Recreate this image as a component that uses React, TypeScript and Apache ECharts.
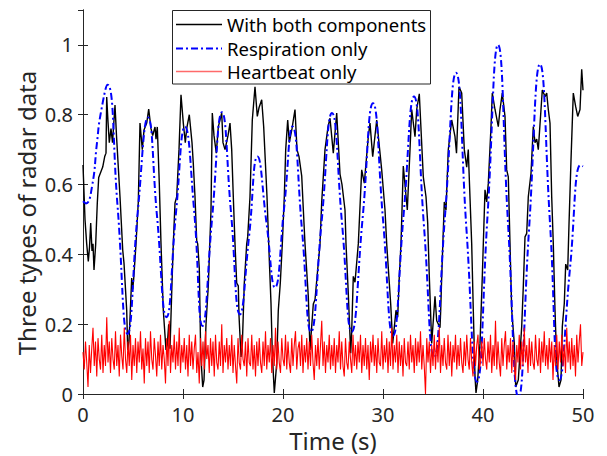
import React, { useEffect, useRef } from "react";
import * as echarts from "echarts";

// Black: respiration + heartbeat (time s, value)
const bothComponents: [number, number][] = [
  [0, 0.656], [0.2, 0.5], [0.37, 0.43], [0.53, 0.38], [0.65, 0.42], [0.77, 0.49], [0.9, 0.41], [1.0, 0.43],
  [1.1, 0.355], [1.27, 0.43], [1.43, 0.547], [1.57, 0.62], [1.77, 0.635], [1.97, 0.65], [2.17, 0.68], [2.3, 0.69],
  [2.37, 0.851], [2.5, 0.78], [2.63, 0.72], [2.8, 0.76], [2.95, 0.72], [3.2, 0.828], [3.35, 0.74], [3.53, 0.65],
  [3.7, 0.565], [3.97, 0.413], [4.1, 0.375], [4.37, 0.24], [4.47, 0.126], [4.6, 0.15], [4.87, 0.332], [4.97, 0.3],
  [5.07, 0.33], [5.3, 0.43], [5.53, 0.55], [5.7, 0.776], [5.93, 0.7], [6.1, 0.756], [6.37, 0.776], [6.57, 0.816],
  [6.8, 0.76], [6.97, 0.74], [7.2, 0.765], [7.3, 0.73], [7.43, 0.765], [7.63, 0.603], [7.8, 0.43], [8.03, 0.24],
  [8.3, 0.126], [8.43, 0.14], [8.57, 0.2], [8.7, 0.13], [8.9, 0.318], [9.03, 0.43], [9.2, 0.547], [9.37, 0.565],
  [9.6, 0.7], [9.8, 0.857], [10.03, 0.776], [10.23, 0.72], [10.37, 0.76], [10.63, 0.8], [10.9, 0.72], [11.03, 0.66],
  [11.2, 0.565], [11.37, 0.44], [11.47, 0.43], [11.63, 0.36], [11.77, 0.117], [11.97, 0.02], [12.1, 0.04], [12.3, 0.2],
  [12.53, 0.31], [12.8, 0.527], [12.93, 0.805], [13.1, 0.74], [13.33, 0.69], [13.53, 0.765], [13.87, 0.805], [14.0, 0.72],
  [14.2, 0.7], [14.5, 0.74], [14.7, 0.776], [14.87, 0.7], [15.03, 0.565], [15.2, 0.43], [15.37, 0.318], [15.53, 0.31],
  [15.6, 0.225], [15.8, 0.106], [15.93, 0.14], [16.13, 0.318], [16.37, 0.43], [16.47, 0.45], [16.7, 0.565], [16.93, 0.785],
  [17.2, 0.88], [17.43, 0.795], [17.6, 0.82], [17.87, 0.843], [18.07, 0.765], [18.4, 0.565], [18.63, 0.385], [18.8, 0.26],
  [18.93, 0.117], [19.13, 0.003], [19.37, 0.088], [19.53, 0.24], [19.73, 0.318], [19.93, 0.43], [20.13, 0.565], [20.27, 0.7],
  [20.47, 0.785], [20.63, 0.72], [20.9, 0.76], [21.2, 0.815], [21.4, 0.7], [21.6, 0.68], [21.87, 0.625], [22.03, 0.53],
  [22.2, 0.43], [22.53, 0.28], [22.7, 0.126], [23.03, 0.258], [23.2, 0.27], [23.7, 0.43], [23.87, 0.55], [24.2, 0.7],
  [24.5, 0.765], [24.7, 0.79], [25.03, 0.69], [25.37, 0.805], [25.7, 0.63], [25.9, 0.6], [26.2, 0.527], [26.3, 0.43],
  [26.53, 0.288], [26.77, 0.117], [26.87, 0.18], [27.03, 0.337], [27.2, 0.32], [27.53, 0.43], [27.87, 0.642], [28.13, 0.604],
  [28.53, 0.737], [28.7, 0.776], [28.97, 0.68], [29.37, 0.785], [29.87, 0.642], [30.2, 0.527], [30.37, 0.43], [30.77, 0.258],
  [30.97, 0.145], [31.3, 0.24], [31.47, 0.22], [31.63, 0.337], [31.8, 0.43], [32.03, 0.653], [32.43, 0.527], [32.7, 0.7],
  [32.87, 0.815], [33.2, 0.737], [33.37, 0.815], [33.63, 0.86], [34.03, 0.622], [34.3, 0.565], [34.47, 0.49], [34.63, 0.337],
  [34.87, 0.145], [35.2, 0.28], [35.37, 0.21], [35.7, 0.19], [35.77, 0.24], [35.87, 0.337], [36.13, 0.55], [36.3, 0.527],
  [36.53, 0.7], [36.87, 0.785], [37.2, 0.737], [37.35, 0.69], [37.6, 0.88], [37.87, 0.862], [38.13, 0.7], [38.37, 0.65],
  [38.53, 0.7], [38.6, 0.64], [38.87, 0.43], [39.03, 0.24], [39.2, 0.05], [39.3, 0.003], [39.47, 0.04], [39.7, 0.145],
  [39.93, 0.337], [40.2, 0.585], [40.37, 0.55], [40.53, 0.604], [40.8, 0.766], [40.93, 0.862], [41.2, 0.815], [41.53, 0.766],
  [41.7, 0.815], [41.93, 0.862], [42.2, 0.795], [42.37, 0.642], [42.53, 0.622], [42.7, 0.43], [42.87, 0.24], [43.13, 0.145],
  [43.27, 0.02], [43.53, 0.04], [43.87, 0.193], [44.03, 0.307], [44.2, 0.45], [44.37, 0.46], [44.53, 0.565], [44.8, 0.632],
  [45.03, 0.766], [45.2, 0.72], [45.37, 0.73], [45.53, 0.7], [45.8, 0.815], [45.93, 0.871], [46.2, 0.852], [46.37, 0.862],
  [46.53, 0.815], [46.7, 0.776], [46.87, 0.565], [47.03, 0.43], [47.2, 0.24], [47.37, 0.097], [47.6, 0.02], [47.8, 0.04],
  [47.93, 0.193], [48.13, 0.26], [48.27, 0.372], [48.47, 0.355], [48.6, 0.486], [48.8, 0.67], [49.03, 0.862], [49.27, 0.823],
  [49.47, 0.795], [49.7, 0.815], [49.87, 0.93], [50, 0.87],
];

// Blue: respiration only (time s, value)
const respirationOnly: [number, number][] = [
  [0, 0.552], [0.3, 0.546], [0.9, 0.594], [1.4, 0.72], [1.75, 0.8], [2.45, 0.886], [3.45, 0.54], [4.45, 0.172],
  [5.5, 0.53], [6.5, 0.792], [7.4, 0.51], [8.35, 0.22], [9.3, 0.52], [10.2, 0.766], [11.1, 0.53], [11.95, 0.195],
  [12.9, 0.5], [13.9, 0.807], [14.8, 0.52], [15.7, 0.228], [16.6, 0.45], [17.45, 0.68], [18.35, 0.49], [19.2, 0.305],
  [20.1, 0.53], [20.95, 0.766], [21.9, 0.47], [22.8, 0.178], [23.85, 0.49], [24.9, 0.805], [25.9, 0.49], [26.87, 0.178],
  [27.95, 0.5], [29.0, 0.833], [30.0, 0.5], [31.0, 0.167], [32.05, 0.51], [33.1, 0.852], [34.1, 0.48], [35.1, 0.105],
  [36.2, 0.51], [37.3, 0.92], [38.35, 0.47], [39.4, 0.035], [40.45, 0.51], [41.5, 1.0], [42.5, 0.49], [43.55, -0.01],
  [44.6, 0.47], [45.7, 0.945], [46.7, 0.49], [47.65, 0.04], [48.7, 0.36], [49.75, 0.656], [50, 0.652],
];

// Red: heartbeat only, sampled every 0.125 s from t = 0
const heartbeatStep = 0.125;
const heartbeatOnly: number[] = [
  0.12, 0.07, 0.15, 0.09, 0.02, 0.14, 0.06, 0.13, 0.19, 0.08, 0.15, 0.05, 0.16, 0.10, 0.07, 0.17, 0.06, 0.14, 0.08, 0.22,
  0.09, 0.15, 0.06, 0.16, 0.10, 0.07, 0.18, 0.08, 0.14, 0.05, 0.17, 0.11, 0.07, 0.19, 0.10, 0.06, 0.15, 0.08, 0.17, 0.04,
  0.14, 0.08, 0.16, 0.06, 0.15, 0.09, 0.18, 0.07, 0.13, 0.03, 0.16, 0.08, 0.15, 0.06, 0.18, 0.10, 0.07, 0.16, 0.11, 0.05,
  0.15, 0.08, 0.17, 0.07, 0.14, 0.10, 0.03, 0.16, 0.08, 0.21, 0.06, 0.14, 0.09, 0.17, 0.07, 0.15, 0.08, 0.19, 0.06, 0.14,
  0.09, 0.16, 0.07, 0.14, 0.05, 0.17, 0.08, 0.15, 0.07, 0.13, 0.17, 0.06, 0.12, 0.03, 0.16, 0.08, 0.15, 0.07, 0.18, 0.10,
  0.14, 0.06, 0.16, 0.08, 0.15, 0.05, 0.17, 0.09, 0.07, 0.15, 0.08, 0.20, 0.06, 0.14, 0.09, 0.16, 0.07, 0.14, 0.08, 0.17,
  0.06, 0.14, 0.08, 0.03, 0.16, 0.09, 0.07, 0.17, 0.10, 0.08, 0.15, 0.05, 0.16, 0.09, 0.08, 0.17, 0.07, 0.14, 0.05, 0.15,
  0.08, 0.16, 0.09, 0.06, 0.15, 0.08, 0.18, 0.07, 0.14, 0.09, 0.16, 0.06, 0.14, 0.08, 0.19, 0.07, 0.15, 0.09, 0.06, 0.16,
  0.10, 0.08, 0.17, 0.07, 0.15, 0.09, 0.06, 0.16, 0.08, 0.14, 0.18, 0.07, 0.13, 0.15, 0.08, 0.17, 0.06, 0.14, 0.09, 0.16,
  0.07, 0.15, 0.08, 0.17, 0.09, 0.04, 0.14, 0.08, 0.16, 0.07, 0.14, 0.21, 0.08, 0.15, 0.06, 0.14, 0.09, 0.17, 0.07, 0.14,
  0.08, 0.16, 0.06, 0.14, 0.09, 0.18, 0.07, 0.15, 0.08, 0.05, 0.16, 0.09, 0.07, 0.15, 0.10, 0.06, 0.17, 0.08, 0.14, 0.07,
  0.15, 0.09, 0.17, 0.06, 0.14, 0.08, 0.16, 0.07, 0.14, 0.04, 0.15, 0.09, 0.17, 0.08, 0.14, 0.06, 0.16, 0.09, 0.08, 0.18,
  0.07, 0.14, 0.09, 0.16, 0.06, 0.15, 0.08, 0.19, 0.07, 0.14, 0.09, 0.17, 0.06, 0.15, 0.08, 0.14, 0.05, 0.16, 0.09, 0.08,
  0.15, 0.07, 0.17, 0.09, 0.14, 0.06, 0.16, 0.08, 0.15, 0.09, 0.18, 0.07, 0.14, 0.08, 0.00, 0.16, 0.09, 0.15, 0.06, 0.14,
  0.08, 0.17, 0.07, 0.15, 0.09, 0.19, 0.06, 0.14, 0.08, 0.16, 0.09, 0.07, 0.17, 0.08, 0.15, 0.05, 0.14, 0.09, 0.17, 0.07,
  0.14, 0.08, 0.16, 0.09, 0.06, 0.15, 0.08, 0.17, 0.10, 0.07, 0.16, 0.09, 0.05, 0.15, 0.08, 0.14, 0.17, 0.07, 0.09, 0.15,
  0.08, 0.16, 0.10, 0.07, 0.15, 0.09, 0.17, 0.06, 0.14, 0.08, 0.21, 0.07, 0.15, 0.09, 0.05, 0.16, 0.08, 0.14, 0.18, 0.07,
  0.14, 0.09, 0.16, 0.06, 0.15, 0.08, 0.04, 0.14, 0.09, 0.17, 0.07, 0.15, 0.08, 0.19, 0.09, 0.14, 0.06, 0.16, 0.08, 0.15,
  0.09, 0.07, 0.17, 0.10, 0.08, 0.16, 0.06, 0.15, 0.09, 0.18, 0.08, 0.14, 0.07, 0.16, 0.09, 0.15, 0.04, 0.14, 0.08, 0.17,
  0.07, 0.15, 0.09, 0.17, 0.08, 0.14, 0.06, 0.19, 0.09, 0.15, 0.07, 0.16, 0.08, 0.14, 0.05, 0.17, 0.09, 0.15, 0.20, 0.08,
  0.12,
];

const seriesNames = ["With both components", "Respiration only", "Heartbeat only"];
const legendColors = ["#000000", "#0000ff", "#ff6a6a"];
const xAxisTitle = "Time (s)";
const yAxisTitle = "Three types of radar data";
const xRange = { min: 0, max: 50, interval: 10 };
const yRange = { min: 0, max: 1.1, interval: 0.2 };

export default function App() {
  const ref = useRef<HTMLDivElement>(null);
  useEffect(() => {
    if (!ref.current) return;
    const chart = echarts.init(ref.current, null, { renderer: "svg" });
    const font = "'Noto Sans', 'DejaVu Sans', sans-serif";
    const axisColor = "#262626";
    const lineStyle = { color: axisColor, width: 1 };
    const tick = { show: true, inside: true, length: 5, lineStyle };
    const blueDash = [7, 3, 2, 3];

    const legendRowY = [24.5, 48.5, 71.5];
    const legendChildren: any[] = [
      {
        type: "rect",
        shape: { x: 172.5, y: 10.5, width: 258, height: 73.5 },
        style: { fill: "#ffffff", stroke: axisColor, lineWidth: 1 },
      },
    ];
    seriesNames.forEach((name, i) => {
      legendChildren.push({
        type: "line",
        shape: { x1: 176, y1: legendRowY[i], x2: 222, y2: legendRowY[i] },
        style: {
          stroke: legendColors[i],
          lineWidth: i === 1 ? 2 : 1.5,
          lineDash: i === 1 ? blueDash : null,
        },
      });
      legendChildren.push({
        type: "text",
        x: 227,
        y: legendRowY[i],
        style: {
          text: name,
          fontSize: 18.5,
          lineHeight: 20,
          fontFamily: font,
          fill: "#000000",
          textAlign: "left",
          textVerticalAlign: "middle",
        },
      });
    });

    chart.setOption({
      animation: false,
      backgroundColor: "#ffffff",
      grid: { left: 83, right: 24, top: 10, bottom: 62, containLabel: false },
      xAxis: [
        {
          type: "value",
          ...xRange,
          position: "bottom",
          axisLine: { show: true, lineStyle },
          axisTick: tick,
          axisLabel: { fontSize: 20, color: axisColor, margin: 10, fontFamily: font },
          splitLine: { show: false },
        },
        {
          type: "value",
          ...xRange,
          position: "top",
          axisLine: { show: true, lineStyle },
          axisTick: tick,
          axisLabel: { show: false },
          splitLine: { show: false },
        },
      ],
      yAxis: [
        {
          type: "value",
          ...yRange,
          position: "left",
          axisLine: { show: true, lineStyle },
          axisTick: tick,
          axisLabel: { fontSize: 20, color: axisColor, margin: 10, fontFamily: font, showMaxLabel: false },
          splitLine: { show: false },
        },
        {
          type: "value",
          ...yRange,
          position: "right",
          axisLine: { show: true, lineStyle },
          axisTick: tick,
          axisLabel: { show: false },
          splitLine: { show: false },
        },
      ],
      graphic: [
        {
          type: "text",
          x: 333,
          y: 440,
          style: {
            text: xAxisTitle,
            fontSize: 24,
            fontFamily: font,
            fill: axisColor,
            textAlign: "center",
            textVerticalAlign: "middle",
          },
        },
        {
          type: "text",
          x: 26,
          y: 213,
          rotation: Math.PI / 2,
          style: {
            text: yAxisTitle,
            fontSize: 24,
            fontFamily: font,
            fill: axisColor,
            textAlign: "center",
            textVerticalAlign: "middle",
          },
        },
        { type: "group", z: 100, children: legendChildren },
      ],
      series: [
        {
          name: seriesNames[0],
          type: "line",
          data: bothComponents,
          symbol: "none",
          lineStyle: { color: "#000000", width: 1.4 },
          itemStyle: { color: "#000000" },
          z: 2,
        },
        {
          name: seriesNames[1],
          type: "line",
          data: respirationOnly,
          smooth: 0.5,
          symbol: "none",
          lineStyle: { color: "#0000ff", width: 2, type: blueDash },
          itemStyle: { color: "#0000ff" },
          z: 3,
        },
        {
          name: seriesNames[2],
          type: "line",
          data: heartbeatOnly.map((v, i) => [i * heartbeatStep, v]),
          symbol: "none",
          lineStyle: { color: "#ff0000", width: 1.1 },
          itemStyle: { color: "#ff0000" },
          z: 4,
        },
      ],
    });
    return () => chart.dispose();
  }, []);
  return (
    <div
      ref={ref}
      style={{ position: "absolute", left: 0, top: 0, width: 607, height: 456, background: "#fff" }}
    />
  );
}
